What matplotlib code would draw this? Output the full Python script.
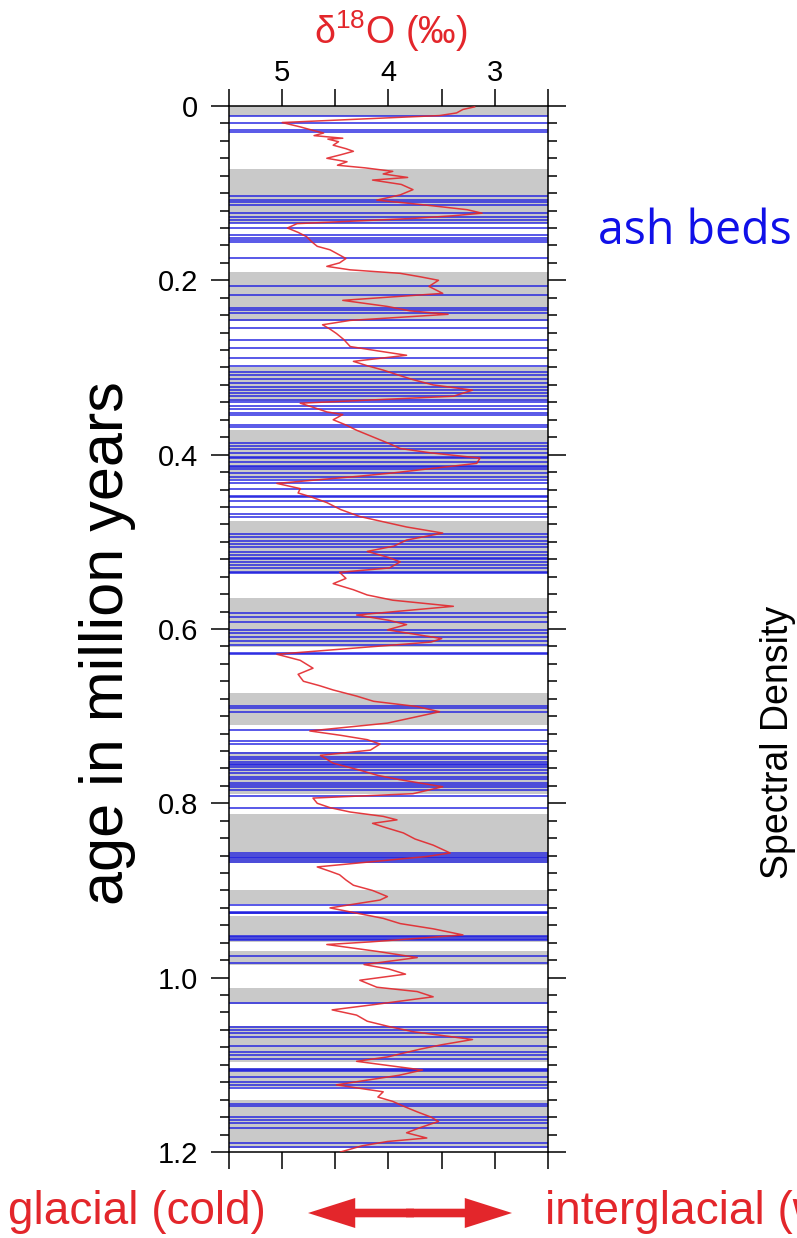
import matplotlib
matplotlib.use("Agg")
import matplotlib.pyplot as plt
from matplotlib import font_manager
from matplotlib.patches import FancyArrowPatch
from matplotlib.ticker import FixedLocator, MultipleLocator
import numpy as np

names = {f.name for f in font_manager.fontManager.ttflist}
sans = 'Liberation Sans' if 'Liberation Sans' in names else 'DejaVu Sans'
ash_font = 'Open Sans' if 'Open Sans' in names else sans
plt.rcParams['font.family'] = [sans, 'DejaVu Sans']
plt.rcParams['mathtext.fontset'] = 'custom'
plt.rcParams['mathtext.rm'] = sans

# interglacial intervals (gray bands), age in Ma
band_top = [0.000, 0.072, 0.191, 0.299, 0.372, 0.476, 0.565, 0.674, 0.741,
            0.812, 0.899, 0.929, 0.970, 1.012, 1.056, 1.104, 1.140]
band_bot = [0.012, 0.134, 0.247, 0.338, 0.428, 0.536, 0.621, 0.710, 0.789,
            0.868, 0.915, 0.959, 0.985, 1.030, 1.097, 1.125, 1.195]

# ash beds, age in Ma
ash_ages = [0.0115, 0.0198, 0.0281, 0.0298, 0.1029, 0.1084, 0.1107, 0.1136,
            0.1228, 0.127, 0.1308, 0.1339, 0.1396, 0.148, 0.152, 0.1543,
            0.156, 0.1747, 0.2065, 0.2168, 0.2317, 0.2346, 0.2375, 0.2455,
            0.2543, 0.2684, 0.278, 0.2894, 0.2983, 0.3048, 0.3086, 0.3136,
            0.3181, 0.322, 0.3258, 0.3296, 0.3327, 0.3373, 0.3392, 0.3441,
            0.3479, 0.3518, 0.3545, 0.366, 0.3679, 0.3863, 0.3901, 0.3939,
            0.3985, 0.4031, 0.4039, 0.4081, 0.413, 0.4138, 0.4168, 0.4214,
            0.4253, 0.4291, 0.4329, 0.4398, 0.4474, 0.4482, 0.4528, 0.4597,
            0.4681, 0.4711, 0.491, 0.4941, 0.4987, 0.5025, 0.5056, 0.5113,
            0.5151, 0.5189, 0.5197, 0.5228, 0.5266, 0.5304, 0.5342, 0.5354,
            0.582, 0.5859, 0.5916, 0.6011, 0.605, 0.6088, 0.6134, 0.6183,
            0.6271, 0.6287, 0.688, 0.691, 0.6949, 0.716, 0.7285, 0.732,
            0.7426, 0.7465, 0.7495, 0.7522, 0.7549, 0.7557, 0.758, 0.7618,
            0.7656, 0.7695, 0.7725, 0.7764, 0.7794, 0.7809, 0.7847, 0.7916,
            0.805, 0.8573, 0.8592, 0.8611, 0.863, 0.8649, 0.8676, 0.9166,
            0.9243, 0.9255, 0.9263, 0.9522, 0.9537, 0.9553, 0.9568, 0.9751,
            0.9835, 1.0287, 1.0562, 1.06, 1.0638, 1.0677, 1.0784, 1.0849,
            1.0887, 1.0937, 1.1044, 1.1059, 1.1075, 1.1136, 1.1193, 1.1231,
            1.1269, 1.1453, 1.1468, 1.1595, 1.1633, 1.1671, 1.1728, 1.1893,
            1.1946]

# benthic d18O record
d18o_age = [0.001, 0.004, 0.008, 0.011, 0.019, 0.024, 0.028, 0.031, 0.034,
            0.037, 0.038, 0.041, 0.045, 0.049, 0.052, 0.056, 0.060, 0.064,
            0.068, 0.071, 0.075, 0.078, 0.082, 0.085, 0.090, 0.096, 0.102,
            0.108, 0.113, 0.119, 0.123, 0.126, 0.129, 0.135, 0.140, 0.145,
            0.150, 0.156, 0.161, 0.165, 0.169, 0.175, 0.180, 0.184, 0.188,
            0.192, 0.196, 0.200, 0.207, 0.215, 0.223, 0.230, 0.235, 0.239,
            0.246, 0.251, 0.256, 0.261, 0.268, 0.276, 0.281, 0.286, 0.293,
            0.298, 0.303, 0.309, 0.314, 0.320, 0.326, 0.333, 0.341, 0.346,
            0.351, 0.354, 0.360, 0.366, 0.372, 0.378, 0.383, 0.388, 0.393,
            0.398, 0.404, 0.410, 0.421, 0.425, 0.433, 0.439, 0.444, 0.448,
            0.455, 0.463, 0.471, 0.477, 0.483, 0.490, 0.498, 0.505, 0.511,
            0.518, 0.523, 0.530, 0.535, 0.542, 0.548, 0.555, 0.561, 0.567,
            0.574, 0.584, 0.590, 0.595, 0.601, 0.611, 0.615, 0.629, 0.636,
            0.645, 0.652, 0.660, 0.665, 0.670, 0.677, 0.683, 0.689, 0.695,
            0.708, 0.717, 0.722, 0.727, 0.732, 0.739, 0.745, 0.754, 0.762,
            0.768, 0.773, 0.781, 0.789, 0.794, 0.800, 0.805, 0.810, 0.815,
            0.819, 0.823, 0.827, 0.834, 0.841, 0.848, 0.857, 0.861, 0.873,
            0.878, 0.882, 0.888, 0.894, 0.900, 0.907, 0.911, 0.920, 0.926,
            0.932, 0.938, 0.944, 0.951, 0.959, 0.962, 0.970, 0.977, 0.985,
            0.990, 0.996, 1.003, 1.011, 1.016, 1.022, 1.031, 1.037, 1.043,
            1.050, 1.056, 1.062, 1.071, 1.077, 1.082, 1.091, 1.096, 1.106,
            1.112, 1.117, 1.123, 1.131, 1.137, 1.142, 1.148, 1.154, 1.160,
            1.165, 1.172, 1.178, 1.184, 1.188, 1.193, 1.200]
d18o_val = [3.19, 3.30, 3.36, 3.52, 5.00, 4.83, 4.71, 4.61, 4.70,
            4.43, 4.57, 4.47, 4.52, 4.40, 4.33, 4.45, 4.58, 4.39,
            4.48, 4.22, 3.96, 4.05, 3.82, 4.15, 3.88, 3.77, 3.89,
            4.11, 3.70, 3.26, 3.12, 3.40, 3.77, 4.86, 4.95, 4.85,
            4.77, 4.72, 4.67, 4.55, 4.49, 4.40, 4.46, 4.58, 4.36,
            3.89, 3.70, 3.53, 3.62, 3.49, 4.43, 4.01, 3.80, 3.44,
            4.36, 4.62, 4.55, 4.49, 4.42, 4.36, 4.10, 3.83, 4.33,
            4.20, 4.05, 3.90, 3.77, 3.58, 3.21, 3.39, 4.83, 4.70,
            4.58, 4.43, 4.52, 4.40, 4.30, 4.18, 4.08, 3.98, 3.89,
            3.60, 3.14, 3.17, 3.96, 4.30, 5.05, 4.83, 4.85, 4.74,
            4.58, 4.45, 4.27, 4.05, 3.83, 3.49, 3.83, 3.95, 4.20,
            4.00, 3.89, 3.99, 4.46, 4.40, 4.52, 4.33, 4.20, 3.96,
            3.39, 4.30, 4.00, 3.83, 4.01, 3.50, 3.60, 5.05, 4.83,
            4.71, 4.85, 4.80, 4.65, 4.52, 4.30, 4.14, 3.73, 3.52,
            4.01, 4.74, 4.45, 4.20, 4.08, 4.17, 4.64, 4.52, 4.27,
            4.10, 3.89, 3.49, 3.77, 4.71, 4.67, 4.55, 4.36, 4.05,
            3.92, 4.15, 4.05, 3.86, 3.75, 3.58, 3.42, 3.64, 4.67,
            4.55, 4.46, 4.40, 4.33, 4.15, 4.01, 4.08, 4.55, 4.30,
            4.05, 3.89, 3.58, 3.30, 4.17, 4.58, 4.10, 3.73, 4.23,
            4.00, 3.84, 4.27, 4.11, 3.73, 3.58, 4.14, 4.53, 4.30,
            4.20, 4.00, 3.77, 3.21, 3.50, 3.70, 4.01, 4.30, 3.68,
            3.90, 4.17, 4.49, 4.05, 4.10, 3.96, 3.85, 3.73, 3.60,
            3.53, 3.70, 3.83, 3.64, 4.01, 4.25, 4.45]

x_ticks = [5.5, 5.0, 4.5, 4.0, 3.5, 3.0, 2.5]
x_labels = ['', '5', '', '4', '', '3', '']
y_ticks = [0, 0.2, 0.4, 0.6, 0.8, 1.0, 1.2]
y_labels = ['0', '0.2', '0.4', '0.6', '0.8', '1.0', '1.2']

fig = plt.figure(figsize=(7.97, 12.38), dpi=100)
ax = fig.add_axes([0.2873, 0.0695, 0.4003, 0.8449])

for t, b in zip(band_top, band_bot):
    ax.axhspan(t, b, color='#c9c9c9', lw=0, zorder=1)
for a in ash_ages:
    ax.axhline(a, color='#1e1ee0', lw=1.3, alpha=0.8, zorder=2)
ax.plot(d18o_val, d18o_age, color='#e3262b', lw=1.1, alpha=0.9, zorder=3)

ax.set_xlim(5.5, 2.5)
ax.set_ylim(1.2, 0)
ax.xaxis.set_major_locator(FixedLocator(x_ticks))
ax.set_xticklabels(x_labels)
ax.set_yticks(y_ticks)
ax.set_yticklabels(y_labels)
ax.yaxis.set_minor_locator(MultipleLocator(0.02))
ax.tick_params(axis='x', which='both', top=True, bottom=True,
               labeltop=True, labelbottom=False, direction='out',
               length=12, width=1.1, pad=2, labelsize=21)
ax.tick_params(axis='y', which='major', left=True, right=True,
               direction='out', length=13, width=1.1, pad=9, labelsize=21)
ax.tick_params(axis='y', which='minor', left=True, right=True,
               direction='out', length=6.5, width=1.1)
for sp in ax.spines.values():
    sp.set_linewidth(1.1)

red = '#e3262b'
fig.text(391 / 797, 1 - 31 / 1238, 'δ$^{\\mathregular{18}}$O (‰)', color=red,
         fontsize=27, ha='center', va='center')
fig.text(108 / 797, 1 - 643 / 1238, 'age in million years', fontsize=44,
         rotation=90, ha='center', va='center')
fig.text(598 / 797, 1 - 231 / 1238, 'ash beds', color='#1010e8',
         fontsize=33.5, family=ash_font, ha='left', va='center')
fig.text(778 / 797, 1 - 742 / 1238, 'Spectral Density', fontsize=27,
         rotation=90, ha='center', va='center')
fig.text(8 / 797, 14 / 1238, 'glacial (cold)', color=red, fontsize=33,
         ha='left', va='baseline')
fig.text(545 / 797, 14 / 1238, 'interglacial (warm)', color=red, fontsize=33,
         ha='left', va='baseline')

ymid = 1 - 1213 / 1238
for xs, xe in ((414, 308), (406, 512)):
    arr = FancyArrowPatch((xs / 797, ymid), (xe / 797, ymid),
                          transform=fig.transFigure, shrinkA=0, shrinkB=0,
                          arrowstyle='simple,head_length=34,head_width=21.6,tail_width=6.2',
                          mutation_scale=1, color=red, lw=0)
    fig.patches.append(arr)

fig.savefig('out.png', dpi=100)
